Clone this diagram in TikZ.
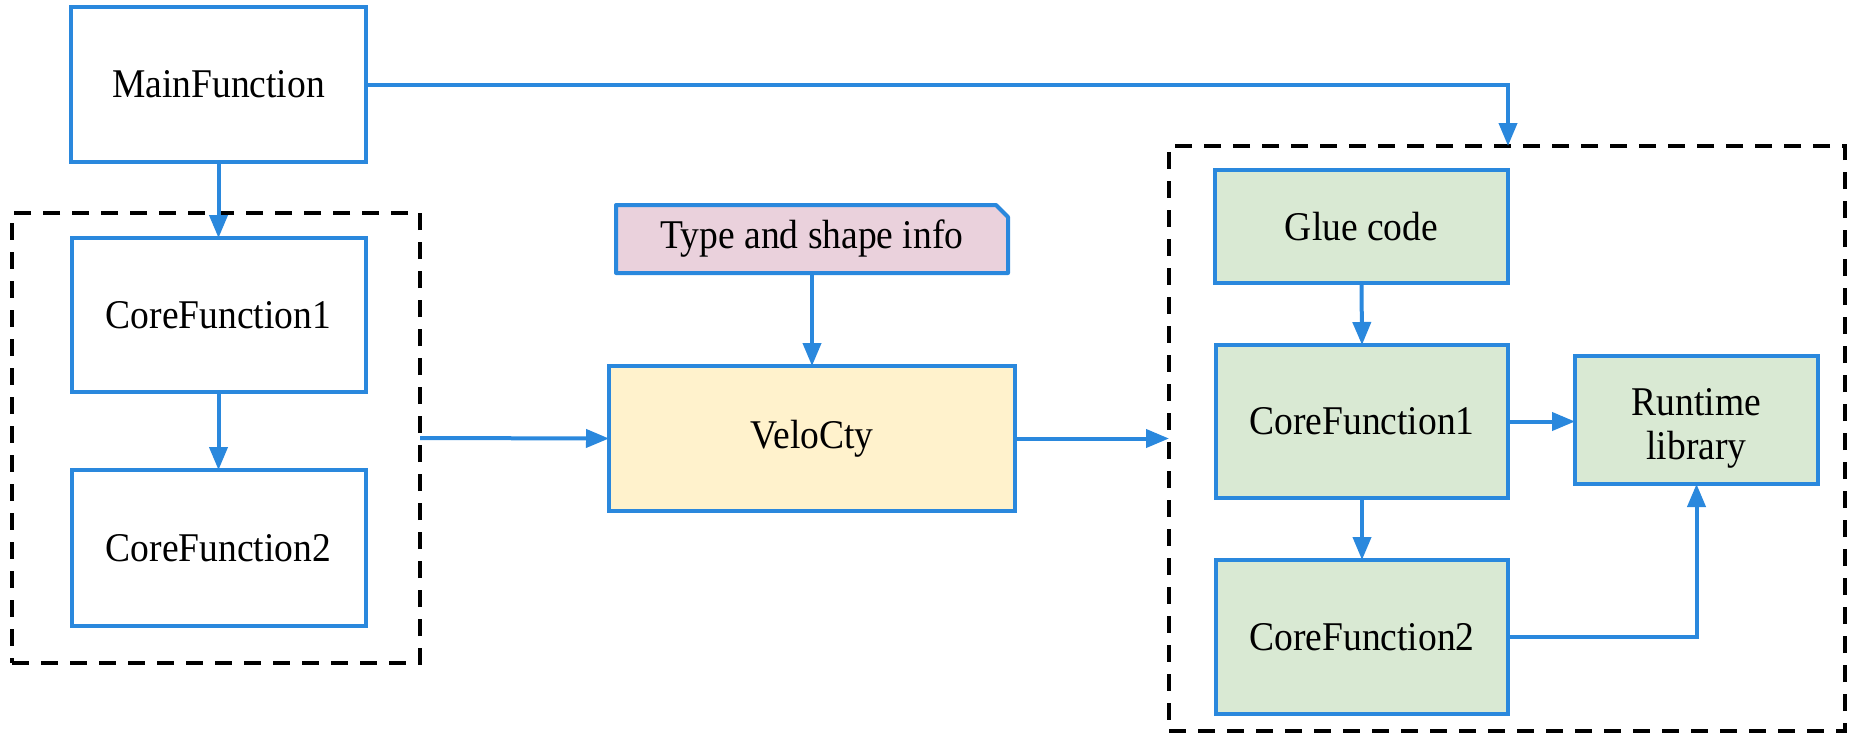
\documentclass[tikz,border=0pt]{standalone}
\usepackage{fontspec}
\setmainfont[FakeStretch=0.92]{Liberation Serif}
\usetikzlibrary{arrows.meta,backgrounds}
\definecolor{flowblue}{HTML}{2A88DD}
\definecolor{gluegreen}{HTML}{D9E9D3}
\definecolor{velofill}{HTML}{FFF2CC}
\definecolor{infopink}{HTML}{EAD1DC}
\tikzset{
  px/.style={x=0.5pt,y=-0.5pt},
  fnbox/.style={draw=flowblue,line width=2pt,inner sep=0pt,outer sep=0pt,
    align=center,font=\fontsize{20.4}{22}\selectfont},
  plainbox/.style={fnbox,fill=white},
  greenbox/.style={fnbox,fill=gluegreen},
  velobox/.style={fnbox,fill=velofill},
  infobox/.style={inner sep=0pt,outer sep=0pt,font=\fontsize{20.4}{22}\selectfont},
  groupbox/.style={draw=black,line width=1.8pt,dash pattern=on 8.5pt off 6pt,
    inner sep=0pt,outer sep=0pt},
  flow/.style={draw=flowblue,line width=2pt,-{Triangle[length=11.5pt,width=9pt]}}
}
\begin{document}
\begin{tikzpicture}[px]
\useasboundingbox (0,0) rectangle (1851,734);

% dashed groups
\node[groupbox,minimum width=204pt,minimum height=225pt] (ldash) at (216,438) {};
\node[groupbox,minimum width=338pt,minimum height=292.5pt] (rdash) at (1507,438.5) {};

% source-side functions
\node[plainbox,minimum width=147.5pt,minimum height=77.5pt] (main) at (218.5,84.5) {MainFunction};
\node[plainbox,minimum width=147pt,minimum height=77pt] (lcf1) at (218.5,315) {CoreFunction1};
\node[plainbox,minimum width=147pt,minimum height=78pt] (lcf2) at (218.5,548) {CoreFunction2};

% compiler and its input
\node[infobox,minimum width=196pt,minimum height=34pt] (info) at (812,239) {Type and shape info};
\begin{scope}[on background layer]
  \filldraw[draw=flowblue,fill=infopink,line width=2pt,line join=round]
    (info.south west) -- (info.north west) -- ([xshift=-6pt]info.north east)
    -- ([yshift=-6pt]info.north east) -- (info.south east) -- cycle;
\end{scope}
\node[velobox,minimum width=203pt,minimum height=72.5pt] (velo) at (812,438.5) {VeloCty};

% generated code
\node[greenbox,minimum width=146.5pt,minimum height=56.5pt] (glue) at (1361.5,226.5) {Glue code};
\node[greenbox,minimum width=146pt,minimum height=76.5pt] (rcf1) at (1362,421.5) {CoreFunction1};
\node[greenbox,minimum width=146pt,minimum height=77pt] (rcf2) at (1362,637) {CoreFunction2};
% the strut on the first line lowers the two-line label inside its box
\node[greenbox,minimum width=121.5pt,minimum height=64pt] (rt) at (1696.5,420)
  {\rule{0pt}{21.5pt}Runtime\\library};

% connectors
\coordinate (mainin) at (glue.east |- rdash.north);
\draw[flow] (main.east) -| (mainin);
\draw[flow] (main.south) -- (lcf1.north);
\draw[flow] (lcf1.south) -- (lcf2.north);
\draw[flow] (ldash.east) -- (velo.west);
\draw[flow] (info.south) -- (velo.north);
\draw[flow] (velo.east) -- (rdash.west);
\draw[flow] (glue.south) -- (rcf1.north);
\draw[flow] (rcf1.south) -- (rcf2.north);
\draw[flow] (rcf1.east) -- (rcf1.east -| rt.west);
\draw[flow] (rcf2.east) -| (rt.south);
\end{tikzpicture}
\end{document}
